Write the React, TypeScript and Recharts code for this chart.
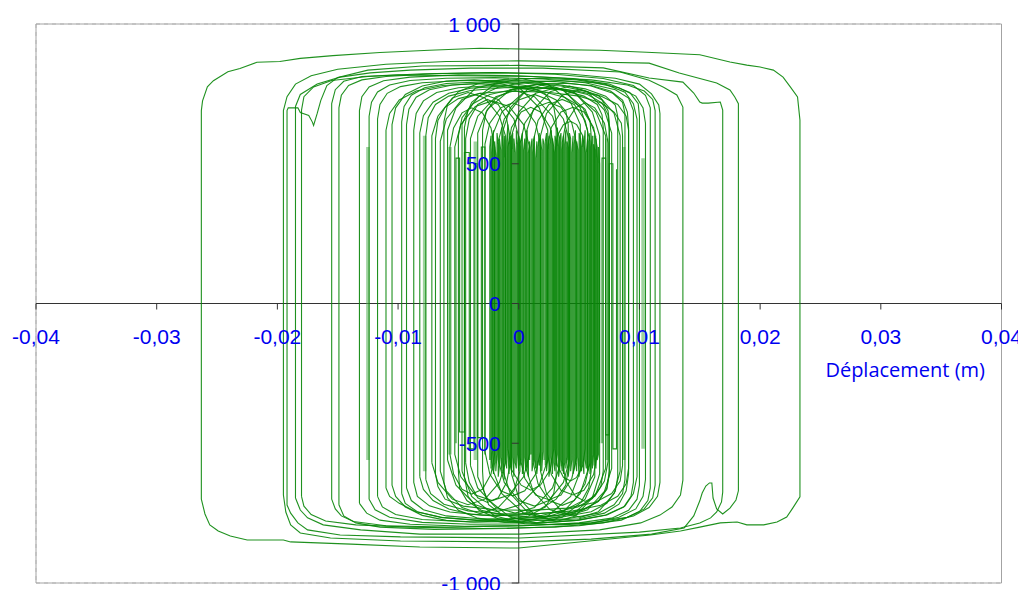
import React from "react";
import {
  ScatterChart,
  Scatter,
  XAxis,
  YAxis,
  CartesianGrid,
  ReferenceLine,
  ReferenceArea,
  ReferenceDot,
} from "recharts";

type P = [number, number];

// tick values / labels
const xTicks = [-0.04, -0.03, -0.02, -0.01, 0, 0.01, 0.02, 0.03, 0.04];
const xTickLabels = ["-0,04", "-0,03", "-0,02", "-0,01", "0", "0,01", "0,02", "0,03", "0,04"];
const yTicks = [-1000, -500, 0, 500, 1000];
const yTickLabels = ["-1 000", "-500", "0", "500", "1 000"];
const xTitle = "Déplacement (m)";

// ---- large hysteresis loops (displacement m, force) ----
const loopOuter: P[] = [
  [-0.0263, -700], [-0.0263, 690], [-0.0262, 725], [-0.0258, 775], [-0.0253, 797], [-0.0241, 829],
  [-0.0231, 841], [-0.0217, 863], [-0.0198, 866], [-0.0181, 877], [-0.0154, 887], [-0.0115, 898],
  [-0.0074, 906], [-0.0032, 913], [0.0007, 910], [0.0067, 906], [0.0106, 899], [0.015, 890],
  [0.0175, 864], [0.0189, 853], [0.02, 846], [0.0211, 835], [0.0219, 810], [0.0225, 775],
  [0.0231, 739], [0.0233, 656], [0.0233, -692], [0.0227, -732], [0.0222, -764], [0.0214, -782],
  [0.0203, -792], [0.0189, -792], [0.0181, -782], [0.0167, -785], [0.015, -800], [0.0134, -814],
  [0.0109, -828], [0.0067, -846], [0.0, -875], [-0.0082, -871], [-0.0139, -861], [-0.0189, -853],
  [-0.0195, -846], [-0.0225, -846], [-0.0239, -832], [-0.0249, -814], [-0.0256, -792], [-0.026, -753],
  [-0.0263, -700],
];

const loopB: P[] = [
  [-0.0195, -640], [-0.0195, 690], [-0.0192, 740], [-0.0185, 785], [-0.0172, 815], [-0.015, 838],
  [-0.011, 856], [-0.006, 866], [0.0, 868], [0.006, 864], [0.0108, 860], [0.0133, 825],
  [0.0164, 789], [0.0175, 764], [0.0179, 739], [0.0182, 715], [0.0182, -670], [0.018, -703],
  [0.0175, -732], [0.0169, -753], [0.0164, -735], [0.0161, -696], [0.016, -642], [0.0158, -642],
  [0.0155, -653], [0.0152, -678], [0.015, -706], [0.0145, -760], [0.0137, -803], [0.011, -825],
  [0.006, -843], [0.0, -853], [-0.0098, -850], [-0.0156, -839], [-0.0181, -821], [-0.0189, -792],
  [-0.0193, -746], [-0.0195, -685], [-0.0195, -640],
];

const loopC: P[] = [
  [-0.0192, -640], [-0.0192, 690], [-0.0191, 700], [-0.0183, 700], [-0.0181, 683], [-0.0174, 673],
  [-0.0171, 649], [-0.017, 637], [-0.0167, 680], [-0.0164, 727], [-0.0159, 780], [-0.015, 809],
  [-0.0125, 835], [-0.008, 850], [0.0, 852], [0.007, 843], [0.0108, 807], [0.0136, 792],
  [0.0145, 753], [0.015, 721], [0.0152, 717], [0.0157, 717], [0.0167, 721], [0.0169, 692],
  [0.0169, -675], [0.0168, -710], [0.0164, -746], [0.0159, -767], [0.015, -785], [0.0134, -803],
  [0.01, -818], [0.0001, -839], [-0.0098, -835], [-0.0148, -828], [-0.0175, -810], [-0.0183, -785],
  [-0.0189, -750], [-0.0192, -721], [-0.0192, -640],
];

const loopD: P[] = [
  [-0.0185, -696], [-0.0185, 705], [-0.0181, 748], [-0.0167, 785], [-0.0148, 810], [-0.0123, 825],
  [-0.009, 835], [-0.004, 842], [0.002, 842], [0.0084, 828], [0.0108, 799], [0.012, 774],
  [0.0131, 746], [0.0136, 703], [0.0136, -632], [0.0134, -685], [0.0127, -728], [0.0117, -757],
  [0.0101, -785], [0.0067, -810], [0.0, -825], [-0.0082, -825], [-0.0131, -810], [-0.0162, -792],
  [-0.0175, -767], [-0.0181, -739], [-0.0185, -696],
];

const loopE: P[] = [
  [-0.018, -690], [-0.018, 692], [-0.0178, 740], [-0.017, 775], [-0.0155, 798], [-0.0125, 812],
  [-0.008, 822], [-0.002, 826], [0.004, 822], [0.008, 806], [0.01, 785], [0.011, 750],
  [0.0116, 710], [0.0117, 680], [0.0117, -640], [0.0115, -690], [0.0108, -730], [0.0095, -760],
  [0.007, -785], [0.003, -800], [-0.003, -805], [-0.009, -800], [-0.0135, -792], [-0.016, -778],
  [-0.0172, -755], [-0.0178, -725], [-0.018, -690],
];

const loopF: P[] = [
  [-0.0155, -700], [-0.0155, 715], [-0.0152, 765], [-0.0145, 795], [-0.013, 812], [-0.01, 818],
  [-0.005, 815], [0.001, 812], [0.006, 800], [0.009, 782], [0.0104, 760], [0.0111, 730],
  [0.0113, 690], [0.0113, -650], [0.0111, -695], [0.0104, -735], [0.009, -765], [0.006, -785],
  [0.0, -795], [-0.006, -800], [-0.011, -795], [-0.0137, -780], [-0.0147, -760], [-0.0152, -735],
  [-0.0155, -700],
];

const loopG: P[] = [
  [-0.0149, -720], [-0.0149, 700], [-0.0147, 745], [-0.0141, 780], [-0.013, 800], [-0.011, 812],
  [-0.007, 822], [-0.002, 826], [0.003, 820], [0.007, 805], [0.0095, 780], [0.0105, 745],
  [0.0109, 700], [0.0109, -660], [0.0107, -705], [0.01, -745], [0.0085, -775], [0.005, -795],
  [-0.001, -805], [-0.007, -808], [-0.0115, -800], [-0.0135, -785], [-0.0145, -760], [-0.0149, -720],
];

const loopH: P[] = [
  [-0.0132, -715], [-0.0132, 690], [-0.013, 740], [-0.0124, 775], [-0.0112, 797], [-0.009, 810],
  [-0.005, 818], [0.0, 815], [0.0045, 805], [0.0075, 785], [0.0092, 755], [0.0099, 715],
  [0.01, 670], [0.01, -650], [0.0098, -700], [0.0091, -740], [0.0077, -768], [0.005, -785],
  [0.0005, -795], [-0.0045, -797], [-0.009, -790], [-0.0115, -775], [-0.0126, -750], [-0.0132, -715],
];

const loopI: P[] = [
  [-0.0124, -700], [-0.0124, 670], [-0.0122, 720], [-0.0117, 757], [-0.0107, 782], [-0.009, 798],
  [-0.006, 806], [-0.002, 808], [0.002, 803], [0.0055, 790], [0.008, 765], [0.0091, 735],
  [0.0095, 690], [0.0095, -640], [0.0093, -690], [0.0087, -728], [0.0073, -757], [0.005, -775],
  [0.001, -788], [-0.004, -790], [-0.008, -783], [-0.0107, -765], [-0.0119, -738], [-0.0124, -700],
];

const loopJ: P[] = [
  [-0.0117, -690], [-0.0117, 660], [-0.0115, 712], [-0.0109, 752], [-0.0098, 776], [-0.008, 790],
  [-0.005, 797], [-0.001, 799], [0.003, 794], [0.006, 778], [0.0078, 752], [0.0086, 720],
  [0.0088, 680], [0.0088, -630], [0.0086, -680], [0.0079, -720], [0.0066, -750], [0.004, -770],
  [0.0, -780], [-0.004, -782], [-0.008, -773], [-0.0102, -755], [-0.0113, -728], [-0.0117, -690],
];

const loopK: P[] = [
  [-0.0097, -680], [-0.0097, 650], [-0.0095, 705], [-0.0089, 745], [-0.0078, 772], [-0.006, 787],
  [-0.003, 793], [0.0, 793], [0.003, 785], [0.0055, 768], [0.0072, 742], [0.008, 710],
  [0.0082, 670], [0.0082, -620], [0.008, -672], [0.0073, -715], [0.006, -745], [0.0035, -765],
  [0.0, -775], [-0.0035, -776], [-0.0065, -765], [-0.0084, -745], [-0.0094, -715], [-0.0097, -680],
];

const loopL: P[] = [
  [-0.0093, -660], [-0.0093, 640], [-0.0091, 695], [-0.0085, 738], [-0.0074, 765], [-0.0055, 782],
  [-0.0025, 790], [0.0005, 788], [0.0035, 778], [0.0057, 758], [0.0069, 728], [0.0074, 690],
  [0.0075, 650], [0.0075, -610], [0.0073, -665], [0.0066, -708], [0.0053, -740], [0.003, -760],
  [0.0, -770], [-0.0032, -770], [-0.006, -760], [-0.0079, -738], [-0.0089, -705], [-0.0093, -660],
];

const loopM: P[] = [
  [-0.0087, -640], [-0.0087, 620], [-0.0085, 680], [-0.0079, 725], [-0.0068, 755], [-0.005, 772],
  [-0.0022, 780], [0.0008, 776], [0.0035, 764], [0.0054, 742], [0.0065, 712], [0.0069, 675],
  [0.007, 630], [0.007, -600], [0.0068, -655], [0.0061, -698], [0.0049, -728], [0.0028, -748],
  [0.0, -757], [-0.003, -757], [-0.0057, -746], [-0.0074, -724], [-0.0084, -690], [-0.0087, -640],
];

const loopN: P[] = [
  [-0.0077, -630], [-0.0077, 600], [-0.0075, 665], [-0.0069, 712], [-0.0058, 742], [-0.004, 762],
  [-0.0012, 772], [0.0018, 772], [0.0046, 762], [0.0068, 742], [0.0082, 712], [0.0089, 670],
  [0.0091, 620], [0.0091, -590], [0.0089, -645], [0.0082, -690], [0.0068, -722], [0.0045, -742],
  [0.0015, -752], [-0.0015, -752], [-0.0042, -742], [-0.0062, -718], [-0.0073, -680], [-0.0077, -630],
];

const loopO: P[] = [
  [-0.0069, -610], [-0.0069, 590], [-0.0067, 655], [-0.0061, 702], [-0.005, 733], [-0.0032, 752],
  [-0.0005, 760], [0.0024, 756], [0.005, 742], [0.0068, 718], [0.0079, 685], [0.0085, 645],
  [0.0086, 600], [0.0086, -580], [0.0084, -635], [0.0077, -680], [0.0063, -712], [0.004, -732],
  [0.001, -740], [-0.002, -738], [-0.0046, -725], [-0.0061, -700], [-0.0067, -655], [-0.0069, -610],
];

// extra mid-size loops (shifted towards left or right)
const loopP: P[] = [[-0.0105,-650],[-0.0105,640],[-0.0102,700],[-0.0094,748],[-0.008,778],[-0.006,796],[-0.0037,800],[-0.0015,794],[0.0008,778],[0.0022,750],[0.0029,705],[0.0031,650],[0.0031,-620],[0.0029,-680],[0.0022,-728],[0.0008,-760],[-0.0015,-778],[-0.0037,-782],[-0.006,-776],[-0.008,-758],[-0.0094,-728],[-0.0102,-690],[-0.0105,-650]];
const loopQ: P[] = [[-0.0062,-640],[-0.0062,650],[-0.0059,712],[-0.005,758],[-0.0034,786],[-0.0012,802],[0.0018,806],[0.0048,800],[0.0072,784],[0.0088,756],[0.0095,715],[0.0098,660],[0.0098,-620],[0.0095,-680],[0.0088,-725],[0.0072,-757],[0.0048,-776],[0.0018,-785],[-0.0012,-783],[-0.0034,-768],[-0.005,-740],[-0.0059,-695],[-0.0062,-640]];
const loopR: P[] = [[-0.0045,-620],[-0.0045,630],[-0.0042,692],[-0.0033,742],[-0.0017,774],[0.0005,792],[0.0035,797],[0.0062,790],[0.0083,772],[0.0097,742],[0.0103,700],[0.0105,645],[0.0105,-630],[0.0103,-690],[0.0097,-735],[0.0083,-765],[0.0062,-785],[0.0035,-792],[0.0005,-788],[-0.0017,-770],[-0.0033,-740],[-0.0042,-690],[-0.0045,-620]];
const loopS: P[] = [[-0.011,-660],[-0.011,620],[-0.0107,680],[-0.0099,728],[-0.0085,760],[-0.0063,780],[-0.0035,786],[-0.0008,780],[0.0015,764],[0.0038,738],[0.0053,700],[0.0059,655],[0.006,600],[0.006,-600],[0.0058,-660],[0.0052,-708],[0.0038,-740],[0.0015,-762],[-0.0008,-772],[-0.0035,-775],[-0.0063,-766],[-0.0085,-745],[-0.0099,-715],[-0.0107,-690],[-0.011,-660]];
const loopT: P[] = [[-0.003,-600],[-0.003,620],[-0.0027,685],[-0.0019,735],[-0.0005,766],[0.0015,783],[0.0038,788],[0.006,780],[0.0076,760],[0.0086,728],[0.009,685],[0.0091,630],[0.0091,-610],[0.0089,-670],[0.0083,-718],[0.0071,-750],[0.005,-770],[0.0025,-777],[0.0,-770],[-0.0015,-752],[-0.0025,-720],[-0.0029,-670],[-0.003,-600]];
const loopU: P[] = [[-0.0082,-620],[-0.0082,610],[-0.0079,672],[-0.0071,720],[-0.0058,752],[-0.004,770],[-0.002,776],[0.0,772],[0.0018,756],[0.0031,728],[0.0039,688],[0.0041,640],[0.0041,-590],[0.0039,-650],[0.0031,-700],[0.0018,-735],[0.0,-755],[-0.002,-760],[-0.004,-754],[-0.0058,-735],[-0.0071,-705],[-0.0079,-665],[-0.0082,-620]];
const loopV: P[] = [[-0.005,-600],[-0.005,600],[-0.0047,665],[-0.0038,715],[-0.0024,748],[-0.0005,766],[0.0017,772],[0.0039,766],[0.0057,748],[0.0069,718],[0.0074,675],[0.0075,620],[0.0075,-600],[0.0073,-660],[0.0066,-708],[0.0052,-740],[0.0032,-758],[0.001,-764],[-0.0012,-758],[-0.0031,-740],[-0.0043,-705],[-0.0049,-660],[-0.005,-600]];

// ---- small loops in the centre ----
const small01: P[] = [[-0.0072,-570],[-0.0072,600],[-0.0067,670],[-0.0055,735],[-0.0042,755],[-0.0028,735],[-0.0016,670],[-0.0011,600],[-0.0011,-570],[-0.0016,-640],[-0.0028,-700],[-0.0042,-720],[-0.0055,-700],[-0.0067,-640],[-0.0072,-570]];
const small02: P[] = [[-0.0065,-600],[-0.0065,580],[-0.006,660],[-0.0047,730],[-0.0032,752],[-0.0017,730],[-0.0004,660],[0.0001,580],[0.0001,-600],[-0.0004,-670],[-0.0017,-730],[-0.0032,-752],[-0.0047,-730],[-0.006,-670],[-0.0065,-600]];
const small03: P[] = [[-0.0059,-560],[-0.0059,620],[-0.0052,700],[-0.0036,770],[-0.0018,790],[0.0001,770],[0.0017,700],[0.0024,620],[0.0024,-560],[0.0017,-650],[0.0001,-720],[-0.0018,-745],[-0.0036,-720],[-0.0052,-650],[-0.0059,-560]];
const small04: P[] = [[-0.0053,-540],[-0.0053,560],[-0.0048,640],[-0.0036,705],[-0.0022,725],[-0.0008,705],[0.0004,640],[0.0009,560],[0.0009,-540],[0.0004,-620],[-0.0008,-685],[-0.0022,-705],[-0.0036,-685],[-0.0048,-620],[-0.0053,-540]];
const small05: P[] = [[-0.0047,-600],[-0.0047,640],[-0.0039,720],[-0.002,785],[0.0002,805],[0.0024,785],[0.0043,720],[0.0051,640],[0.0051,-600],[0.0043,-690],[0.0024,-760],[0.0002,-782],[-0.002,-760],[-0.0039,-690],[-0.0047,-600]];
const small06: P[] = [[-0.004,-580],[-0.004,590],[-0.0034,670],[-0.0019,740],[-0.0003,762],[0.0013,740],[0.0028,670],[0.0034,590],[0.0034,-580],[0.0028,-660],[0.0013,-730],[-0.0003,-750],[-0.0019,-730],[-0.0034,-660],[-0.004,-580]];
const small07: P[] = [[-0.0034,-620],[-0.0034,610],[-0.0026,695],[-0.0007,765],[0.0015,785],[0.0036,765],[0.0055,695],[0.0063,610],[0.0063,-620],[0.0055,-700],[0.0036,-765],[0.0015,-785],[-0.0007,-765],[-0.0026,-700],[-0.0034,-620]];
const small08: P[] = [[-0.0028,-530],[-0.0028,570],[-0.0024,645],[-0.0015,700],[-0.0005,718],[0.0005,700],[0.0014,645],[0.0018,570],[0.0018,-530],[0.0014,-610],[0.0005,-670],[-0.0005,-688],[-0.0015,-670],[-0.0024,-610],[-0.0028,-530]];
const small09: P[] = [[-0.0022,-590],[-0.0022,600],[-0.0014,685],[0.0004,755],[0.0025,775],[0.0046,755],[0.0064,685],[0.0072,600],[0.0072,-590],[0.0064,-680],[0.0046,-750],[0.0025,-770],[0.0004,-750],[-0.0014,-680],[-0.0022,-590]];
const small10: P[] = [[-0.0017,-560],[-0.0017,580],[-0.0012,660],[0.0,728],[0.0013,748],[0.0025,728],[0.0037,660],[0.0042,580],[0.0042,-560],[0.0037,-640],[0.0025,-705],[0.0013,-725],[0.0,-705],[-0.0012,-640],[-0.0017,-560]];
const small11: P[] = [[-0.0013,-600],[-0.0013,620],[-0.0007,700],[0.0007,765],[0.0022,785],[0.0037,765],[0.0051,700],[0.0057,620],[0.0057,-600],[0.0051,-680],[0.0037,-745],[0.0022,-765],[0.0007,-745],[-0.0007,-680],[-0.0013,-600]];
const small12: P[] = [[-0.0009,-520],[-0.0009,560],[-0.0006,630],[0.0002,685],[0.001,702],[0.0018,685],[0.0026,630],[0.0029,560],[0.0029,-520],[0.0026,-595],[0.0018,-650],[0.001,-668],[0.0002,-650],[-0.0006,-595],[-0.0009,-520]];
const small13: P[] = [[-0.0006,-610],[-0.0006,600],[0.0,685],[0.0014,752],[0.0031,772],[0.0047,752],[0.0061,685],[0.0067,600],[0.0067,-610],[0.0061,-695],[0.0047,-760],[0.0031,-780],[0.0014,-760],[0.0,-695],[-0.0006,-610]];
const small14: P[] = [[0.0001,-550],[0.0001,570],[0.0005,645],[0.0014,702],[0.0025,720],[0.0035,702],[0.0044,645],[0.0048,570],[0.0048,-550],[0.0044,-625],[0.0035,-685],[0.0025,-702],[0.0014,-685],[0.0005,-625],[0.0001,-550]];
const small15: P[] = [[0.0006,-590],[0.0006,610],[0.0012,692],[0.0026,758],[0.0042,778],[0.0057,758],[0.0071,692],[0.0077,610],[0.0077,-590],[0.0071,-672],[0.0057,-738],[0.0042,-758],[0.0026,-738],[0.0012,-672],[0.0006,-590]];
const small16: P[] = [[0.0012,-570],[0.0012,580],[0.0016,655],[0.0025,712],[0.0036,730],[0.0046,712],[0.0055,655],[0.0059,580],[0.0059,-570],[0.0055,-645],[0.0046,-705],[0.0036,-722],[0.0025,-705],[0.0016,-645],[0.0012,-570]];
const small17: P[] = [[0.0018,-600],[0.0018,600],[0.0023,680],[0.0036,745],[0.0051,765],[0.0066,745],[0.0079,680],[0.0084,600],[0.0084,-600],[0.0079,-680],[0.0066,-745],[0.0051,-765],[0.0036,-745],[0.0023,-680],[0.0018,-600]];
const small18: P[] = [[0.0024,-540],[0.0024,560],[0.0027,630],[0.0035,685],[0.0045,702],[0.0054,685],[0.0062,630],[0.0065,560],[0.0065,-540],[0.0062,-612],[0.0054,-668],[0.0045,-685],[0.0035,-668],[0.0027,-612],[0.0024,-540]];
const small19: P[] = [[0.003,-520],[0.003,540],[0.0032,600],[0.0037,640],[0.0043,652],[0.0048,640],[0.0053,600],[0.0055,540],[0.0055,-520],[0.0053,-580],[0.0048,-622],[0.0043,-635],[0.0037,-622],[0.0032,-580],[0.003,-520]];
const small20: P[] = [[0.0036,-565],[0.0036,575],[0.0039,645],[0.0047,700],[0.0055,718],[0.0063,700],[0.0071,645],[0.0074,575],[0.0074,-565],[0.0071,-635],[0.0063,-690],[0.0055,-708],[0.0047,-690],[0.0039,-635],[0.0036,-565]];
const small21: P[] = [[-0.0057,-540],[-0.0057,560],[-0.0054,628],[-0.0047,682],[-0.0039,700],[-0.003,682],[-0.0023,628],[-0.002,560],[-0.002,-540],[-0.0023,-610],[-0.003,-665],[-0.0039,-682],[-0.0047,-665],[-0.0054,-610],[-0.0057,-540]];
const small22: P[] = [[-0.0044,-570],[-0.0044,590],[-0.0041,660],[-0.0034,712],[-0.0026,730],[-0.0017,712],[-0.001,660],[-0.0007,590],[-0.0007,-570],[-0.001,-640],[-0.0017,-695],[-0.0026,-712],[-0.0034,-695],[-0.0041,-640],[-0.0044,-570]];

// ---- dense force reversals with little displacement ----
const zigC: P[] = [[-0.0052,-500],[-0.0052,520],[-0.0049,520],[-0.0049,-460],[-0.0045,-460],[-0.0045,540],[-0.0041,540],[-0.0041,-520],[-0.0037,-520],[-0.0037,500],[-0.0034,500],[-0.0034,-480],[-0.0031,-480],[-0.0031,560],[-0.0028,560],[-0.0028,-540]];
const zigE: P[] = [
  [-0.0024,-560],[-0.0024,560],[-0.0023,600],[-0.0023,-590],[-0.0022,-530],[-0.0022,540],[-0.0021,620],[-0.0021,-610],
  [-0.002,-570],[-0.002,580],[-0.0019,530],[-0.0019,-600],[-0.0018,-540],[-0.0018,610],[-0.0017,570],[-0.0017,-620],
  [-0.0016,-580],[-0.0016,590],[-0.0015,550],[-0.0015,-550],[-0.0014,-600],[-0.0014,630],[-0.0013,560],[-0.0013,-570],
  [-0.0012,-630],[-0.0012,600],[-0.0011,520],[-0.0011,-560],[-0.001,-590],[-0.001,580],[-0.0009,640],[-0.0009,-540],
  [-0.0008,-610],[-0.0008,570],[-0.0007,600],[-0.0007,-580],[-0.0006,-600],[-0.0006,550],[-0.0005,610],[-0.0005,-550],
  [-0.0004,-620],[-0.0004,590],[-0.0003,540],[-0.0003,-570],[-0.0002,-590],[-0.0002,620],[-0.0001,570],[-0.0001,-540],
  [0.0,-600],[0.0,600],[0.0001,560],[0.0001,-580],[0.0002,-560],[0.0002,580],[0.0003,610],[0.0003,-610],
  [0.0004,-590],[0.0004,550],[0.0005,590],[0.0005,-550],[0.0006,-600],[0.0006,570],[0.0007,620],[0.0007,-570],
  [0.0008,-620],[0.0008,540],[0.0009,580],[0.0009,-560],
];
const zigG: P[] = [
  [0.001,-540],[0.001,560],[0.0011,590],[0.0011,-600],[0.0012,-570],[0.0012,540],[0.0013,600],[0.0013,-560],
  [0.0014,-590],[0.0014,520],[0.0015,580],[0.0015,-610],[0.0016,-560],[0.0016,560],[0.0017,610],[0.0017,-580],
  [0.0018,-560],[0.0018,590],[0.0019,550],[0.0019,-600],[0.002,-530],[0.002,590],[0.0021,570],[0.0021,-560],
];
const zigF: P[] = [
  [0.0022,-580],[0.0022,580],[0.0023,610],[0.0023,-600],[0.0024,-560],[0.0024,550],[0.0025,600],[0.0025,-620],
  [0.0026,-590],[0.0026,570],[0.0027,620],[0.0027,-550],[0.0028,-610],[0.0028,590],[0.0029,540],[0.0029,-570],
  [0.003,-600],[0.003,600],[0.0031,580],[0.0031,-580],[0.0032,-540],[0.0032,630],[0.0033,560],[0.0033,-620],
  [0.0034,-590],[0.0034,590],[0.0035,610],[0.0035,-560],[0.0036,-600],[0.0036,550],[0.0037,600],[0.0037,-610],
  [0.0038,-570],[0.0038,570],[0.0039,620],[0.0039,-590],[0.004,-550],[0.004,580],[0.0041,560],[0.0041,-620],
  [0.0042,-580],[0.0042,610],[0.0043,590],[0.0043,-600],[0.0044,-560],[0.0044,540],[0.0045,600],[0.0045,-610],
  [0.0046,-590],[0.0046,570],[0.0047,620],[0.0047,-570],[0.0048,-600],[0.0048,580],[0.0049,550],[0.0049,-550],
  [0.005,-620],[0.005,610],[0.0051,590],[0.0051,-580],[0.0052,-600],[0.0052,560],[0.0053,600],[0.0053,-570],
  [0.0054,-610],[0.0054,570],[0.0055,620],[0.0055,-560],[0.0056,-590],[0.0056,540],[0.0057,590],[0.0057,-600],
  [0.0058,-580],[0.0058,580],[0.0059,610],[0.0059,-610],[0.006,-570],[0.006,560],[0.0061,600],[0.0061,-590],
  [0.0062,-540],[0.0062,570],[0.0063,550],[0.0063,-550],[0.0064,-590],[0.0064,590],[0.0065,520],[0.0065,-560],
  [0.0066,-540],[0.0066,560],[0.0067,500],[0.0067,-500],
];
const zigD: P[] = [[0.0069,-500],[0.0069,520],[0.0072,520],[0.0072,-470],[0.0075,-470],[0.0075,500],[0.0078,500],[0.0078,-520],[0.0081,-520],[0.0081,480]];

// light translucent bands (many nearly coincident reversals)
const bandLines: P[][] = [
  [[-0.0125, 560], [-0.0125, -560]],
  [[-0.0078, 600], [-0.0078, -600]],
  [[-0.0057, 560], [-0.0057, -540]],
  [[-0.0036, 580], [-0.0036, -560]],
  [[0.0041, 560], [0.0041, -560]],
  [[0.0063, 600], [0.0063, -580]],
  [[0.0073, 590], [0.0073, -560]],
  [[0.0087, 560], [0.0087, -560]],
  [[0.0103, 520], [0.0103, -520]],
];

const allSeries: P[][] = [
  loopOuter, loopB, loopC, loopD, loopE, loopF, loopG, loopH, loopI, loopJ, loopK, loopL, loopM, loopN, loopO,
  loopP, loopQ, loopR, loopS, loopT, loopU, loopV,
  small01, small02, small03, small04, small05, small06, small07, small08, small09, small10, small11,
  small12, small13, small14, small15, small16, small17, small18, small19, small20, small21, small22,
  zigC, zigE, zigG, zigF, zigD,
];

const GREEN = "#078507";
const BAND = "#4fae4f";
const BLUE = "#0000f0";
const TICK_FONT = "'Liberation Sans', Arial, sans-serif";

const NoDot = () => <g />;

const makeXTick = (label: string) => (props: any) => {
  const { cx, cy } = props;
  return (
    <g>
      <line x1={cx} y1={cy} x2={cx} y2={cy + 6} stroke="#333" strokeWidth={1} />
      <text x={cx} y={cy + 40} textAnchor="middle" fill={BLUE} fontSize={21} fontFamily={TICK_FONT}>
        {label}
      </text>
    </g>
  );
};

const makeYTick = (label: string) => (props: any) => {
  const { cx, cy } = props;
  return (
    <g>
      <line x1={cx - 7} y1={cy} x2={cx} y2={cy} stroke="#333" strokeWidth={1} />
      <text x={cx - 18} y={cy + 7.5} textAnchor="end" fill={BLUE} fontSize={21} fontFamily={TICK_FONT}>
        {label}
      </text>
    </g>
  );
};

const TitleShape = (props: any) => {
  const { cx, cy } = props;
  return (
    <text x={cx - 16.5} y={cy + 73.5} textAnchor="end" fill={BLUE} fontSize={20} fontFamily="'Open Sans', 'Noto Sans', sans-serif">
      {xTitle}
    </text>
  );
};

export default function App() {
  return (
    <div style={{ width: 1018, height: 590 }}>
      <ScatterChart width={1018} height={590} margin={{ top: 16, right: 24.5, bottom: 15, left: 28 }}>
        <CartesianGrid strokeDasharray="4 4" stroke="#c4c4c4" />
        <XAxis
          type="number"
          dataKey="x"
          domain={[-0.04, 0.04]}
          ticks={xTicks}
          height={0}
          axisLine={false}
          tickLine={false}
          tick={false}
        />
        <YAxis
          type="number"
          dataKey="y"
          domain={[-1000, 1000]}
          ticks={yTicks}
          width={0}
          axisLine={false}
          tickLine={false}
          tick={false}
        />
        <ReferenceArea x1={-0.04} x2={0.04} y1={-1000} y2={1000} fill="none" fillOpacity={0} stroke="#a3a3a3" strokeWidth={1} />
        {bandLines.map((s, i) => (
          <Scatter
            key={"b" + i}
            data={s.map(([x, y]) => ({ x, y }))}
            line={{ stroke: BAND, strokeWidth: 3.5, strokeOpacity: 0.55 }}
            lineType="joint"
            shape={NoDot}
            legendType="none"
            isAnimationActive={false}
          />
        ))}
        {allSeries.map((s, i) => (
          <Scatter
            key={"s" + i}
            data={s.map(([x, y]) => ({ x, y }))}
            line={{ stroke: GREEN, strokeWidth: 1.1, strokeOpacity: 0.9 }}
            lineType="joint"
            shape={NoDot}
            legendType="none"
            isAnimationActive={false}
          />
        ))}
        <ReferenceLine y={0} stroke="#333" strokeWidth={1} />
        <ReferenceLine x={0} stroke="#333" strokeWidth={1} />
        {xTicks.map((t, i) => (
          <ReferenceDot key={"xt" + i} x={t} y={0} r={0} shape={makeXTick(xTickLabels[i])} />
        ))}
        {yTicks.map((t, i) => (
          <ReferenceDot key={"yt" + i} x={0} y={t} r={0} shape={makeYTick(yTickLabels[i])} />
        ))}
        <ReferenceDot x={0.04} y={0} r={0} shape={TitleShape} />
      </ScatterChart>
    </div>
  );
}
